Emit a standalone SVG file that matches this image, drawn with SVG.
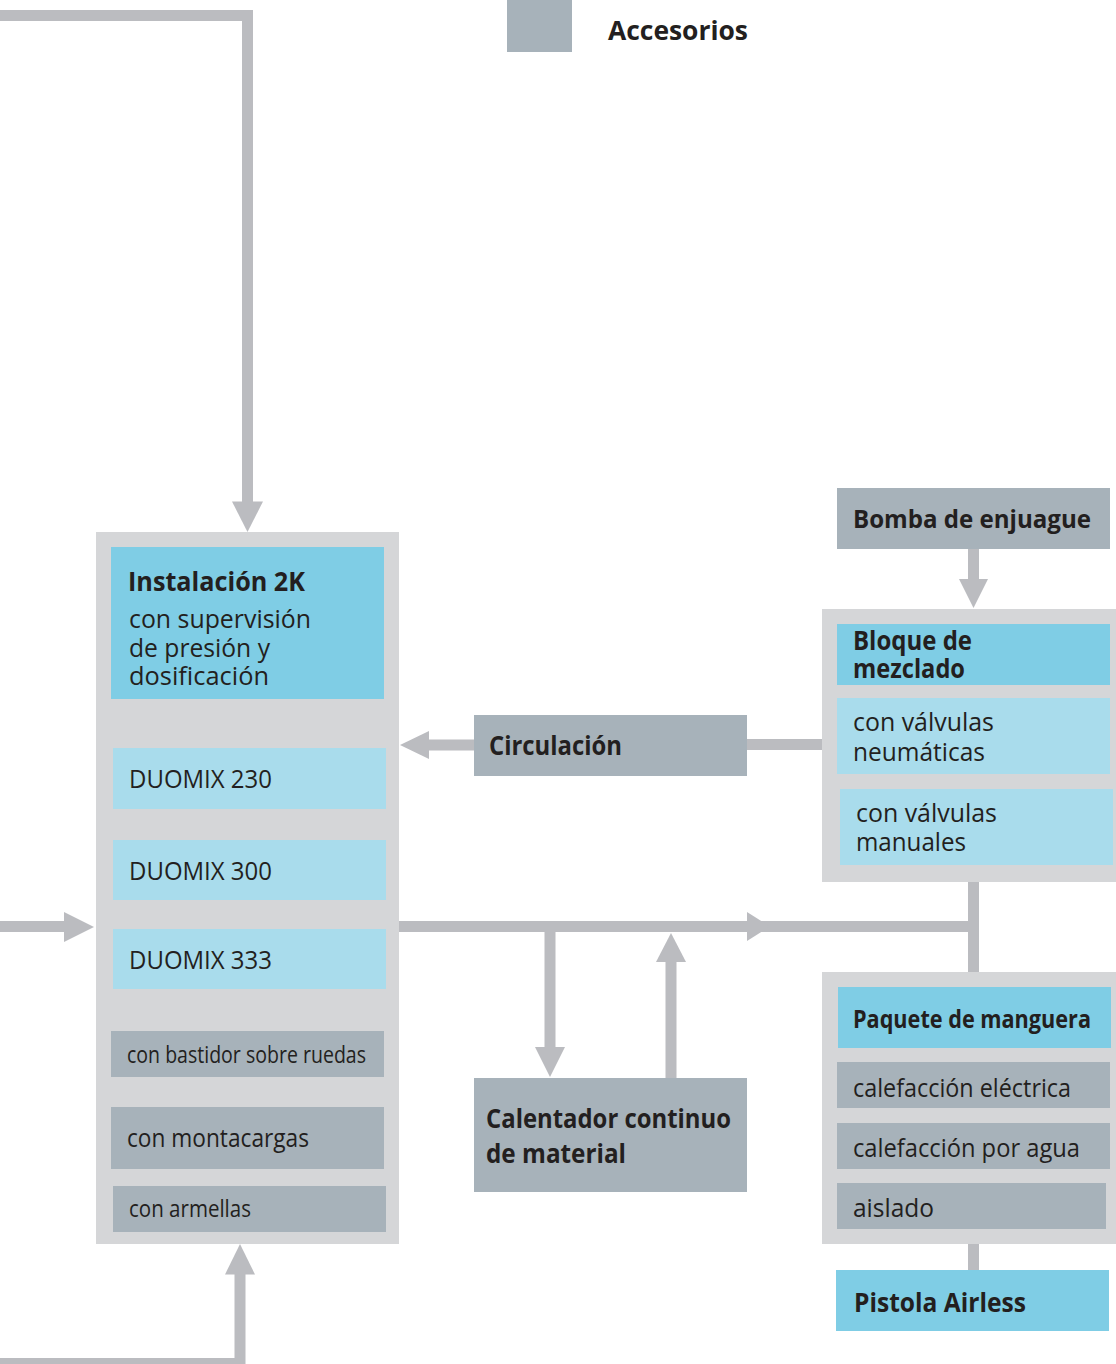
<svg xmlns="http://www.w3.org/2000/svg" width="1116" height="1364" viewBox="0 0 1116 1364">
<style>
.bg{fill:#ffffff}
.grp{fill:#d5d6d8}
.hdr{fill:#7fcde5}
.lt{fill:#a9dcec}
.acc{fill:#a7b2ba}
.ln{fill:none;stroke:#bbbcc0;stroke-width:11;stroke-linejoin:miter;stroke-linecap:butt}
.ah{fill:#bbbcc0}
text{font-family:"Open Sans","Liberation Sans",sans-serif;fill:#231f20}
.b{font-weight:bold;font-size:27px}
.bn{font-weight:bold;font-size:25px}
.r{font-size:26px}
.s{font-size:24px}
</style>
<rect class="bg" x="0" y="0" width="1116" height="1364"/>

<g id="legend">
<rect class="acc" x="507" y="0" width="65" height="52"/>
<text class="b" x="608" y="40" font-size="30" textLength="140" lengthAdjust="spacingAndGlyphs">Accesorios</text>
</g>

<g id="connectors">
<polyline class="ln" points="0,15.5 247.5,15.5 247.5,502"/>
<polygon class="ah" points="232,501.5 263,501.5 247.5,532"/>
<polyline class="ln" points="0,1363.5 240,1363.5 240,1274"/>
<polygon class="ah" points="225,1274.5 255,1274.5 240,1244"/>
<line class="ln" x1="0" y1="926.5" x2="65" y2="926.5"/>
<polygon class="ah" points="64,912 64,942 94,927"/>
<line class="ln" x1="399" y1="926.5" x2="979" y2="926.5"/>
<polygon class="ah" points="747,912 747,941 770,926.5"/>
<line class="ln" x1="973.5" y1="882" x2="973.5" y2="972"/>
<line class="ln" x1="550" y1="932" x2="550" y2="1048"/>
<polygon class="ah" points="535,1047 565,1047 550,1077"/>
<line class="ln" x1="671" y1="1078" x2="671" y2="961"/>
<polygon class="ah" points="656,962 686,962 671,933"/>
<line class="ln" x1="474" y1="745" x2="428" y2="745"/>
<polygon class="ah" points="429,731 429,759 400,745"/>
<line class="ln" x1="747" y1="744.5" x2="822" y2="744.5"/>
<line class="ln" x1="973.5" y1="549" x2="973.5" y2="580"/>
<polygon class="ah" points="959,579 988,579 973.5,608"/>
<line class="ln" x1="973.5" y1="1244" x2="973.5" y2="1270"/>
</g>

<g id="instalacion">
<rect class="grp" x="96" y="532" width="303" height="712"/>
<rect class="hdr" x="111" y="547" width="273" height="152"/>
<text class="b" x="128" y="591" textLength="177" lengthAdjust="spacingAndGlyphs">Instalación 2K</text>
<text class="r" x="129" y="628" textLength="182" lengthAdjust="spacingAndGlyphs">con supervisión</text>
<text class="r" x="129" y="657" textLength="141" lengthAdjust="spacingAndGlyphs">de presión y</text>
<text class="r" x="129" y="685" textLength="140" lengthAdjust="spacingAndGlyphs">dosificación</text>
</g>
<g id="duomix230">
<rect class="lt" x="113" y="748" width="273" height="61"/>
<text class="r" x="129" y="788" textLength="143" lengthAdjust="spacingAndGlyphs">DUOMIX 230</text>
</g>
<g id="duomix300">
<rect class="lt" x="113" y="840" width="273" height="60"/>
<text class="r" x="129" y="880" textLength="143" lengthAdjust="spacingAndGlyphs">DUOMIX 300</text>
</g>
<g id="duomix333">
<rect class="lt" x="113" y="929" width="273" height="60"/>
<text class="r" x="129" y="969" textLength="143" lengthAdjust="spacingAndGlyphs">DUOMIX 333</text>
</g>
<g id="bastidor">
<rect class="acc" x="111" y="1031" width="273" height="46"/>
<text class="s" x="127" y="1063" textLength="239" lengthAdjust="spacingAndGlyphs">con bastidor sobre ruedas</text>
</g>
<g id="montacargas">
<rect class="acc" x="111" y="1107" width="273" height="62"/>
<text class="r" x="127" y="1147" textLength="182" lengthAdjust="spacingAndGlyphs">con montacargas</text>
</g>
<g id="armellas">
<rect class="acc" x="113" y="1186" width="273" height="46"/>
<text class="s" x="129" y="1217" textLength="122" lengthAdjust="spacingAndGlyphs">con armellas</text>
</g>

<g id="circulacion">
<rect class="acc" x="474" y="715" width="273" height="61"/>
<text class="b" x="489" y="755" textLength="133" lengthAdjust="spacingAndGlyphs">Circulación</text>
</g>

<g id="calentador">
<rect class="acc" x="474" y="1078" width="273" height="114"/>
<text class="b" x="486" y="1128" textLength="245" lengthAdjust="spacingAndGlyphs">Calentador continuo</text>
<text class="b" x="486" y="1163" textLength="140" lengthAdjust="spacingAndGlyphs">de material</text>
</g>

<g id="bomba">
<rect class="acc" x="837" y="488" width="273" height="61"/>
<text class="bn" x="853" y="528" textLength="238" lengthAdjust="spacingAndGlyphs">Bomba de enjuague</text>
</g>

<g id="bloque">
<rect class="grp" x="822" y="609" width="294" height="273"/>
<rect class="hdr" x="837" y="624" width="273" height="61"/>
<text class="b" x="853" y="650" textLength="119" lengthAdjust="spacingAndGlyphs">Bloque de</text>
<text class="b" x="853" y="678" textLength="112" lengthAdjust="spacingAndGlyphs">mezclado</text>
</g>
<g id="neumaticas">
<rect class="lt" x="837" y="698" width="273" height="76"/>
<text class="r" x="853" y="731" textLength="141" lengthAdjust="spacingAndGlyphs">con válvulas</text>
<text class="r" x="853" y="761" textLength="132" lengthAdjust="spacingAndGlyphs">neumáticas</text>
</g>
<g id="manuales">
<rect class="lt" x="840" y="789" width="273" height="76"/>
<text class="r" x="856" y="822" textLength="141" lengthAdjust="spacingAndGlyphs">con válvulas</text>
<text class="r" x="856" y="851" textLength="110" lengthAdjust="spacingAndGlyphs">manuales</text>
</g>

<g id="paquete">
<rect class="grp" x="822" y="972" width="294" height="272"/>
<rect class="hdr" x="838" y="987" width="273" height="61"/>
<text class="bn" x="853" y="1028" textLength="238" lengthAdjust="spacingAndGlyphs">Paquete de manguera</text>
</g>
<g id="electrica">
<rect class="acc" x="837" y="1062" width="273" height="46"/>
<text class="r" x="853" y="1097" textLength="218" lengthAdjust="spacingAndGlyphs">calefacción eléctrica</text>
</g>
<g id="agua">
<rect class="acc" x="837" y="1123" width="273" height="46"/>
<text class="r" x="853" y="1157" textLength="227" lengthAdjust="spacingAndGlyphs">calefacción por agua</text>
</g>
<g id="aislado">
<rect class="acc" x="837" y="1183" width="269" height="46"/>
<text class="r" x="853" y="1217" textLength="81" lengthAdjust="spacingAndGlyphs">aislado</text>
</g>

<g id="pistola">
<rect class="hdr" x="836" y="1270" width="273" height="61"/>
<text class="b" x="854" y="1312" textLength="172" lengthAdjust="spacingAndGlyphs">Pistola Airless</text>
</g>
</svg>
